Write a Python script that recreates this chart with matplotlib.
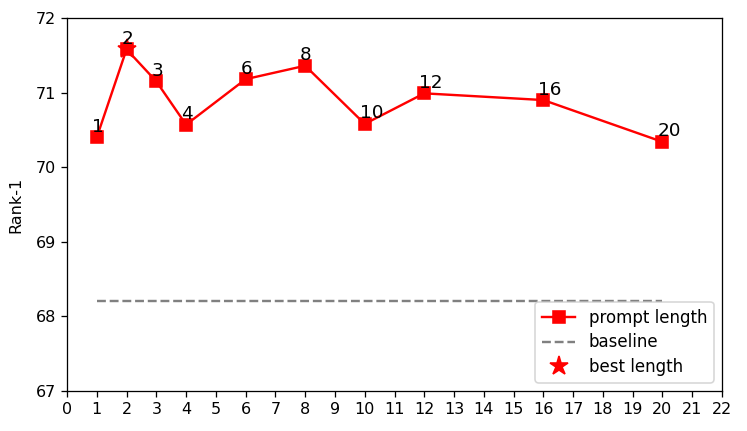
import matplotlib
matplotlib.use("Agg")
import matplotlib.pyplot as plt

# prompt length vs Rank-1
lengths = [1, 2, 3, 4, 6, 8, 10, 12, 16, 20]
rank1 = [70.40, 71.58, 71.15, 70.57, 71.18, 71.36, 70.58, 70.99, 70.90, 70.34]
baseline = 68.2
best_len = 2
best_val = 71.58

DPI = 115
fig = plt.figure(figsize=(747 / DPI, 431 / DPI), dpi=DPI)
ax = fig.add_axes([67 / 747, 1 - 391 / 431, 655 / 747, 373 / 431])

ax.plot(lengths, rank1, color='red', marker='s', markersize=7, linewidth=1.5,
        label='prompt length')
ax.plot([lengths[0], lengths[-1]], [baseline, baseline], color='gray',
        linestyle='--', linewidth=1.5, label='baseline')
ax.plot([best_len], [best_val], color='red', marker='*', markersize=12,
        linestyle='none', label='best length')

for x, y in zip(lengths, rank1):
    ax.text(x - 0.17, y + 0.02, str(x), ha='left', va='bottom', fontsize=11.5)

ax.set_xlim(0, 22)
ax.set_ylim(67, 72)
ax.set_xticks(range(0, 23))
ax.set_yticks(range(67, 73))
ax.set_ylabel('Rank-1')
ax.yaxis.set_label_coords(-0.066, 0.5)
ax.legend(loc='lower right', fontsize=10.4, labelspacing=0.4)

fig.savefig('out.png', dpi=DPI)
